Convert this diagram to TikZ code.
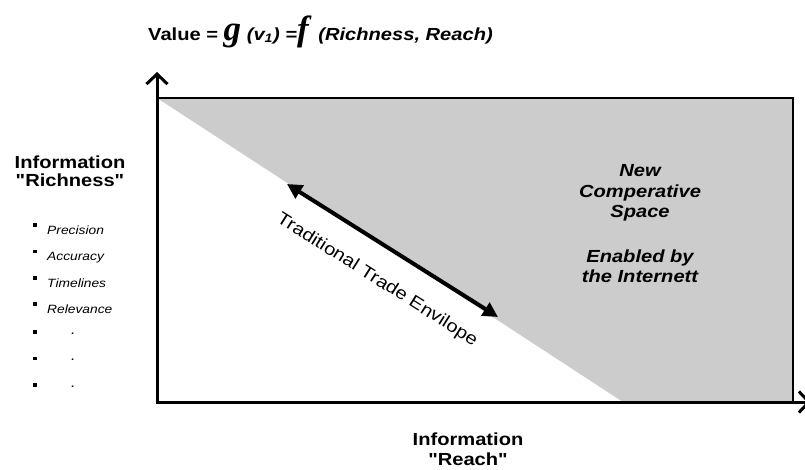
\documentclass[tikz,border=0pt]{standalone}
\usepackage{fontspec}
\setmainfont{Liberation Sans}[FakeStretch=1.15, Ligatures=TeXOff]
\newfontfamily\bigserif{Liberation Serif}
\usetikzlibrary{arrows.meta}
\definecolor{spacegray}{HTML}{CCCCCC}

\tikzset{
  axisline/.style={line width=3pt, -{Straight Barb[length=10pt,width=21pt]}},
  frameline/.style={line width=2.6pt, line join=miter},
  envarrow/.style={line width=4pt, {Triangle[length=15pt,width=15pt]}-{Triangle[length=15pt,width=15pt]}},
  heading/.style={inner sep=0pt, align=center, font=\bfseries\fontsize{17.5}{18.5}\selectfont},
  spacelabel/.style={inner sep=0pt, align=center, font=\bfseries\itshape\fontsize{17.5}{20.5}\selectfont},
  itemlabel/.style={inner sep=0pt, anchor=base west, font=\itshape\fontsize{12}{14}\selectfont},
  bulletmark/.style={fill=black, minimum size=3.2pt, inner sep=0pt},
}

\begin{document}
\begin{tikzpicture}[x=1pt,y=-1pt]
\useasboundingbox (0,0) rectangle (805,469);
\clip (0,0) rectangle (805,469);

% corners of the chart
\coordinate (O)  at (157,402);
\coordinate (TL) at (157,98);
\coordinate (TR) at (793,98);
\coordinate (BR) at (793,402);
\coordinate (BX) at (623,402);
\coordinate (ytip) at (157,72);
\coordinate (xtip) at (811,402);

% shaded region above the envelope
\fill[spacegray] (TL) -- (TR) -- (BR) -- (BX) -- cycle;
\draw[frameline] (TL) -- (TR) -- (BR);

% axes
\draw[axisline] (O) -- (ytip);
\draw[axisline] ([xshift=-1.5pt]O) -- (xtip);

% trade envelope
\coordinate (envA) at (287,184);
\coordinate (envB) at (498,317);
\draw[envarrow] (envA) -- (envB);
\node[inner sep=0pt, rotate=-32.2, font=\fontsize{17.5}{19}\selectfont] (envtext) at (377,280) {Traditional Trade Envilope};

% title
\node[inner sep=0pt, anchor=base west, font=\bfseries\fontsize{17.5}{20}\selectfont] (title) at (148,40)
  {Value = {\bigserif\bfseries\itshape\fontsize{35}{35}\selectfont g} {\itshape(v\textsubscript{1}) =}{\bigserif\bfseries\itshape\fontsize{35}{35}\selectfont f}\hspace{4pt} {\itshape(Richness, Reach)}};

% axis labels
\node[heading] (rich) at (70,171) {Information\\"Richness"};
\node[heading, font=\bfseries\fontsize{17.5}{20}\selectfont] (reach) at (468,449) {Information\\"Reach"};

% richness attributes
\node[itemlabel] (i1) at (47,234) {Precision};
\node[itemlabel] (i2) at (47,260.5) {Accuracy};
\node[itemlabel] (i3) at (47,287) {Timelines};
\node[itemlabel] (i4) at (47,313) {Relevance};
\node[bulletmark] (b1) at (35,225) {};
\node[bulletmark] (b2) at (35,251.5) {};
\node[bulletmark] (b3) at (35,278) {};
\node[bulletmark] (b4) at (35,304) {};
\node[bulletmark] (b5) at (35,332) {};
\node[bulletmark] (b6) at (35,358.5) {};
\node[bulletmark] (b7) at (35,385) {};
\node[itemlabel, font=\itshape\fontsize{14}{14}\selectfont] (d1) at (71,334) {.};
\node[itemlabel, font=\itshape\fontsize{14}{14}\selectfont] (d2) at (71,360.5) {.};
\node[itemlabel, font=\itshape\fontsize{14}{14}\selectfont] (d3) at (71,387) {.};

% new space labels
\node[spacelabel] (newspace) at (640,193) {New\\Comperative\\Space};
\node[spacelabel] (enabled) at (640,266) {Enabled by\\the Internett};
\end{tikzpicture}
\end{document}
